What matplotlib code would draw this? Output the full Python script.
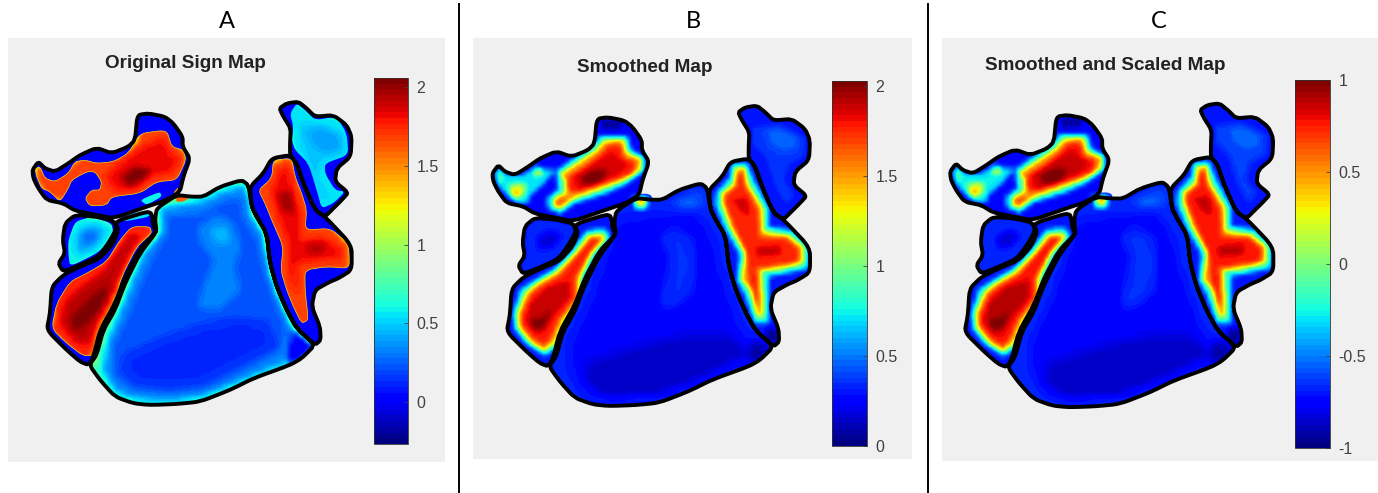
import numpy as np
from matplotlib import pyplot as plt
from matplotlib.path import Path
from matplotlib.patches import PathPatch, Rectangle

W, H = 1378, 493

# region outlines (map units = 3 x reference pixels of panel A)
region_head = [(97,510),(115,485),(135,505),(165,515),(205,490),(240,465),(290,443),(335,460),(385,440),(405,420),(412,345),(445,340),(495,350),(520,370),(548,410),(548,440),(570,475),(550,530),(540,575),(500,600),(440,620),(340,655),(290,645),(225,632),(190,610),(140,600),(115,565),(100,535)]
region_blob = [(225,645),(290,650),(340,662),(350,685),(325,730),(295,770),(240,795),(190,815),(175,790),(195,760),(188,720),(195,670)]
region_left = [(345,665),(440,635),(455,640),(460,680),(470,695),(420,745),(375,830),(345,910),(300,990),(280,1070),(265,1095),(240,1085),(200,1050),(140,990),(150,940),(155,860),(190,825),(240,800),(300,775),(340,730),(355,690)]
region_big = [(470,625),(530,585),(575,590),(610,590),(660,560),(725,540),(745,555),(755,620),(770,650),(800,700),(810,790),(830,860),(860,930),(890,985),(945,1035),(905,1075),(870,1095),(760,1135),(690,1170),(600,1205),(530,1212),(450,1215),(400,1210),(345,1190),(300,1140),(268,1095),(290,1065),(310,990),(345,930),(375,850),(420,760),(470,695),(465,660)]
region_cross = [(750,560),(790,520),(815,475),(870,465),(890,490),(910,550),(945,630),(975,650),(1055,735),(1055,810),(1015,835),(990,845),(945,870),(935,920),(960,980),(962,1020),(945,1035),(890,985),(860,930),(830,860),(810,790),(800,700),(770,650),(755,620)]
region_top = [(838,325),(860,310),(895,305),(920,325),(945,350),(1000,345),(1040,375),(1055,410),(1052,470),(1010,505),(1005,545),(1045,578),(1025,600),(1000,625),(975,650),(945,630),(910,550),(890,490),(870,465),(870,430),(872,385),(850,350)]
regions = [region_head, region_blob, region_left, region_big, region_cross, region_top]

# panel A: edges of the hot and cyan patches
head_edge = [(105,505),(120,500),(135,535),(165,545),(205,520),(225,485),(255,480),(290,490),(340,485),(385,460),(420,400),(500,390),(515,440),(550,450),(558,480),(530,540),(470,545),(420,580),(335,590),(320,615),(270,618),(255,595),(275,570),(300,570),(305,545),(285,515),(260,515),(215,540),(205,565),(180,605),(150,575),(125,565),(110,530)]
left_edge = [(395,680),(450,680),(455,700),(410,740),(365,830),(345,900),(300,980),(285,1065),(250,1068),(200,1030),(155,985),(170,910),(210,845),(260,820),(320,785),(360,720)]
cross_edge = [(775,570),(815,535),(820,480),(875,475),(885,530),(905,580),(920,630),(915,690),(990,685),(1045,730),(1050,805),(980,800),(915,810),(915,870),(925,960),(905,970),(880,920),(860,870),(842,810),(850,740),(815,660),(795,610)]
blob_rim = [(205,720),(225,665),(275,650),(335,670),(340,700),(300,755),(210,800),(205,760)]
top_rim = [(870,340),(890,310),(915,330),(945,360),(1010,350),(1040,400),(1045,465),(975,490),(975,520),(1005,570),(1035,575),(1000,610),(965,625),(950,570),(925,490),(885,450),(875,420),(880,380)]
head_cyan = [(420,600),(480,575),(485,590),(440,615)]
left_cyan = [(355,650),(445,630),(450,650),(370,665)]
head_bit = [(530,590),(570,592),(550,605),(528,605)]
head_bit2 = [(520,578),(535,560),(532,585)]
patch_polys = [head_cyan, left_cyan, head_bit, head_bit2]
patch_levels = [0.58, 0.55, 1.62, 1.5]

# panel A: values inside those patches
big_foot = [(880,985),(945,1035),(905,1075),(860,1095),(860,1040)]
big_rim = [(480,620),(530,615),(610,600),(660,575),(725,555),(745,580),(750,640),(790,700),(805,790),(825,860),(880,990),(860,1030),(860,1085),(760,1125),(690,1155),(600,1190),(530,1200),(450,1200),(400,1195),(345,1175),(305,1110),(320,1020),(345,960),(385,860),(425,760),(480,690)]
big_inner = [(500,650),(600,640),(680,600),(725,600),(730,660),(770,720),(790,810),(820,900),(855,980),(840,1050),(740,1105),(620,1165),(510,1180),(400,1170),(340,1130),(340,1030),(380,950),(420,850),(460,760),(500,700)]
big_low = [(370,1060),(480,1010),(600,970),(700,950),(800,960),(830,1040),(730,1090),(610,1150),(500,1165),(400,1150),(360,1110)]
big_light = [(590,680),(650,640),(700,670),(720,740),(700,800),(720,870),(650,930),(590,920),(610,850),(640,780),(600,730)]
big_spot = [(630,680),(680,680),(690,730),(640,730)]
head_mid = [(340,500),(420,440),(490,410),(505,450),(540,480),(510,520),(450,530),(400,570),(340,570),(310,530)]
head_core = [(360,530),(400,500),(450,505),(430,540),(380,560)]
left_mid = [(390,700),(420,700),(380,770),(340,860),(290,960),(270,1030),(230,1030),(180,970),(190,910),(240,860),(310,810),(350,750)]
left_core = [(210,950),(280,880),(330,850),(310,920),(250,980),(215,990)]
cross_mid = [(810,570),(840,500),(865,500),(880,580),(900,640),(900,720),(960,710),(1020,740),(1020,780),(960,780),(890,790),(890,870),(880,880),(860,800),(860,730),(830,650)]
cross_core1 = [(830,580),(870,570),(880,640),(845,630)]
cross_core2 = [(920,730),(980,730),(960,760),(920,760)]
blob_mid = [(225,710),(245,680),(290,675),(315,695),(285,740),(230,765)]
blob_core = [(245,705),(265,690),(295,700),(270,730),(245,730)]
top_wide = [(890,370),(960,370),(1025,395),(1035,460),(965,480),(950,530),(985,590),(965,610),(940,540),(905,450)]
top_mid = [(920,390),(960,380),(1020,410),(1020,450),(970,460),(940,440),(925,420)]

zones_a = [region_head, region_blob, region_left, region_big, region_cross, region_top, big_rim, big_inner, big_low, big_light, big_spot, big_foot, head_mid, head_core, left_mid, left_core, cross_mid, cross_core1, cross_core2, blob_mid, blob_core, top_wide, top_mid]
levels_a = [1.68, 0.58, 1.74, 0.72, 1.68, 0.56, 0.33, 0.22, 0.13, 0.33, 0.45, 0, 1.82, 2.05, 1.92, 2.05, 1.82, 2.0, 1.95, 0.4, 0.25, 0.48, 0.4]
hot_edges = [head_edge, left_edge, cross_edge]
clip_a = [head_edge, left_edge, cross_edge, blob_rim, top_rim, region_big]

# panels B and C: the large lobe, drawn soft
big_top = [(640,590),(720,565),(735,590),(700,610),(650,610)]
big_b_inner = [(480,660),(600,650),(700,640),(740,700),(770,820),(810,930),(840,1010),(700,1060),(560,1090),(430,1110),(340,1110),(340,1020),(400,900),(450,760)]
big_b_low = [(370,1090),(520,1040),(690,1000),(820,1000),(860,1060),(720,1130),(600,1175),(440,1185),(370,1150)]
big_b_light = [(590,690),(650,670),(700,700),(710,780),(700,870),(640,920),(590,920),(610,830),(620,760)]
foot_dark = [(860,1010),(945,1035),(905,1075),(860,1095)]
soft_zones = [region_big, big_b_inner, big_b_low, big_b_light, big_top, foot_dark]
soft_levels_b = [0.32, 0.23, 0.13, 0.35, 0.48, 0.06]
soft_levels_c = [-0.68, -0.77, -0.87, -0.65, -0.52, -0.94]

# panels B and C: iso-lines of the rest
head_cy = [(290,510),(330,480),(395,435),(420,405),(500,405),(515,450),(555,470),(553,510),(500,550),(435,580),(340,610),(300,640),(265,625),(260,595),(295,565),(290,540)]
arm_cy = [(105,520),(115,500),(145,525),(180,525),(210,510),(225,495),(250,505),(290,510),(270,525),(250,550),(210,585),(200,610),(165,605),(130,575),(110,550)]
head_yel = [(300,520),(345,490),(405,450),(430,420),(490,415),(500,455),(545,475),(540,510),(490,540),(425,565),(340,595),(300,625),(280,615),(280,595),(315,575),(315,545)]
head_red = [(325,525),(375,495),(425,455),(445,430),(480,430),(490,470),(530,485),(515,520),(475,535),(415,555),(335,580),(320,555)]
head_dr = [(340,530),(405,485),(455,455),(475,475),(505,490),(475,520),(415,550),(355,570)]
head_cr = [(360,530),(405,505),(445,510),(420,545),(375,555)]
arm_yel = [(145,555),(195,550),(190,585),(165,595),(150,580)]
arm_org = [(160,570),(180,568),(175,582),(167,585)]
arm_dot = [(220,515),(240,505),(247,515),(230,528)]
arm_tip = [(105,520),(115,505),(130,535),(115,550)]
lobe_org = [(280,605),(315,590),(320,600),(290,620)]
head_dark = [(420,355),(490,355),(480,385),(425,385)]
left_cy = [(380,690),(435,685),(450,710),(405,770),(370,840),(365,910),(320,975),(295,1040),(255,1070),(195,1030),(160,985),(158,940),(180,870),(225,840),(285,805),(330,755)]
left_yel = [(385,705),(430,700),(435,720),(395,760),(360,835),(355,905),(310,965),(285,1030),(250,1055),(210,1030),(175,985),(170,945),(195,880),(230,850),(290,815),(340,765)]
left_red = [(395,715),(420,715),(382,770),(345,835),(345,895),(295,960),(270,1020),(250,1040),(215,1015),(185,980),(185,940),(210,885),(240,860),(300,825),(350,765)]
left_dr = [(200,965),(210,915),(260,865),(325,845),(325,895),(280,945),(250,995),(225,1000)]
left_cr = [(205,965),(245,955),(270,935),(250,985),(220,990)]
cross_cy = [(770,575),(810,530),(815,490),(860,485),(880,535),(925,620),(925,680),(995,690),(1045,735),(1045,805),(980,820),(925,830),(925,900),(925,970),(885,970),(855,885),(830,840),(840,765),(795,685),(765,610)]
cross_yel = [(785,580),(820,550),(825,505),(855,500),(865,550),(910,625),(910,695),(985,705),(1030,740),(1030,790),(970,805),(905,815),(910,890),(910,950),(890,950),(870,870),(845,840),(855,760),(810,680),(785,610)]
cross_red = [(800,580),(832,555),(835,515),(850,515),(855,555),(895,630),(900,710),(980,715),(1020,750),(1015,785),(960,795),(890,805),(895,900),(895,920),(885,900),(865,840),(860,765),(825,685),(795,610)]
cross_c1 = [(820,600),(860,590),(870,645),(845,635)]
cross_c2 = [(890,740),(960,735),(960,765),(890,770)]
blob_b_dark = [(235,715),(265,695),(300,705),(275,740),(240,745)]
top_b_mid = [(880,380),(960,370),(1035,410),(1030,465),(985,490),(970,540),(1000,580),(980,610),(950,560),(920,470),(880,430)]
top_b_core = [(920,390),(960,385),(1010,410),(1010,440),(970,450),(935,430)]
foot_b = [(920,985),(955,990),(955,1030),(915,1030)]
spot_ring = [(505,580),(580,580),(575,635),(515,635)]
spot_mid = [(518,590),(565,590),(560,625),(525,625)]
spot_hot = [(528,593),(558,593),(554,614),(531,614)]

traced = [spot_ring, spot_mid, spot_hot, head_dark, head_cy, arm_cy, head_yel, arm_yel, arm_org, arm_dot, arm_tip, lobe_org, head_red, head_dr, head_cr, left_cy, left_yel, left_red, left_dr, left_cr, cross_cy, cross_yel, cross_red, cross_c1, cross_c2, blob_b_dark, top_b_mid, top_b_core, foot_b]
traced_levels_b = [0.32, 0.85, 1.5, 0.07, 0.8, 0.72, 1.5, 1.25, 1.55, 1.25, 0.9, 1.65, 1.78, 1.86, 2.02, 0.8, 1.5, 1.78, 1.9, 2.02, 0.8, 1.5, 1.76, 1.88, 1.88, 0.17, 0.38, 0.46, 0.06]
traced_levels_c = [-0.68, -0.15, 0.5, -0.93, -0.2, -0.28, 0.5, 0.25, 0.55, 0.25, -0.1, 0.65, 0.78, 0.86, 1.0, -0.2, 0.5, 0.78, 0.9, 1.0, -0.2, 0.5, 0.76, 0.88, 0.88, -0.83, -0.62, -0.54, -0.94]
region_levels_b = [0.27, 0.32, 0.3, 0.3, 0.3, 0.3]
region_levels_c = [-0.73, -0.68, -0.7, -0.7, -0.7, -0.7]

titles = ['Original Sign Map', 'Smoothed Map', 'Smoothed and Scaled Map']
letters = ['A', 'B', 'C']
ticks_a = [0, 0.5, 1, 1.5, 2]
ticks_b = [0, 0.5, 1, 1.5, 2]
ticks_c = [-1, -0.5, 0, 0.5, 1]
ticklabels_a = ['0', '0.5', '1', '1.5', '2']
ticklabels_b = ['0', '0.5', '1', '1.5', '2']
ticklabels_c = ['-1', '-0.5', '0', '0.5', '1']

plt.rcParams['font.family'] = ['Liberation Sans', 'DejaVu Sans']
fig = plt.figure(figsize=(W / 100, H / 100), dpi=100, facecolor='white')
jet = plt.get_cmap('jet', 64)


def px_axes(left, top, right, bottom):
    return fig.add_axes([left / W, 1 - bottom / H, (right - left) / W, (bottom - top) / H])


def make_field(zones, levels, cell, base):
    # painted on a finer grid, then averaged down so the zone edges do not stair-step
    sub = 4
    step = cell / sub
    nx = int(np.ceil(980 / cell)) + 1
    ny = int(np.ceil(940 / cell)) + 1
    xs = 90 + step * np.arange(nx * sub)
    ys = 290 + step * np.arange(ny * sub)
    gx, gy = np.meshgrid(xs, ys)
    pts = np.column_stack([gx.ravel(), gy.ravel()])
    fine = np.full(gx.shape, float(base))
    for poly, lev in zip(zones, levels):
        inside = Path(poly + [poly[0]]).contains_points(pts).reshape(gx.shape)
        fine[inside] = lev
    field = fine.reshape(ny, sub, nx, sub).mean(axis=(1, 3))
    return field, [90, 90 + nx * cell, 290 + ny * cell, 290]


def round_path(polys, t=0.3):
    # straight sides with the corners eased, a fraction t of each side either way
    verts, codes = [], []
    for poly in polys:
        pts = np.array(poly, dtype=float)
        nxt = np.roll(pts, -1, axis=0)
        prv = np.roll(pts, 1, axis=0)
        for k, p in enumerate(pts):
            a = p + (prv[k] - p) * t
            c = p + (nxt[k] - p) * t
            verts.append(a)
            codes.append(Path.MOVETO if k == 0 else Path.LINETO)
            verts += [p, c]
            codes += [Path.CURVE3, Path.CURVE3]
        verts.append(verts[-3 * len(pts)])
        codes.append(Path.LINETO)
    return Path(np.array(verts), codes)


def from_b(polys):
    return [[(x, y - 8) for x, y in poly] for poly in polys]


def draw_image(ax, zones, levels, cell, base, clim, clip):
    field, ext = make_field(zones, levels, cell, base)
    im = ax.imshow(field, cmap=jet, vmin=clim[0], vmax=clim[1], extent=ext,
                   interpolation='gaussian', interpolation_stage='data', aspect='auto')
    im.set_clip_path(round_path(clip), transform=ax.transData)
    return im


panels = [
    dict(bg=(8, 38, 445, 462), box=(30.0, 96.7, 356.7, 410.0), cbar=(374, 78, 408, 444), clim=(-0.27, 2.06),
         ticks=ticks_a, labels=ticklabels_a, title_xy=(185, 64), letter_x=227),
    dict(bg=(473, 38, 912, 459), box=(490.0, 100.7, 815.0, 411.0), cbar=(832, 81, 867, 446), clim=(0, 2.03),
         soft=soft_levels_b, traced=traced_levels_b, reg=region_levels_b, base=0.3,
         ticks=ticks_b, labels=ticklabels_b, title_xy=(645, 67), letter_x=693),
    dict(bg=(942, 38, 1378, 461), box=(947.6, 98.3, 1278.4, 412.3), cbar=(1295, 80, 1330, 448), clim=(-1, 1),
         soft=soft_levels_c, traced=traced_levels_c, reg=region_levels_c, base=-0.7,
         ticks=ticks_c, labels=ticklabels_c, title_xy=(1105, 65), letter_x=1159),
]

for i, p in enumerate(panels):
    l, t, r, b = p['bg']
    fig.add_artist(Rectangle((l / W, 1 - b / H), (r - l) / W, (b - t) / H, transform=fig.transFigure,
                             fc='#f0f0f0', ec='none', zorder=-5))

    ax = px_axes(*p['box'])
    ax.axis('off')
    clim = p['clim']
    to_color = lambda v: jet((v - clim[0]) / (clim[1] - clim[0]))

    if i == 0:
        ax.add_patch(PathPatch(round_path(regions), fc=to_color(0), ec='none', zorder=0))
        im = draw_image(ax, zones_a, levels_a, 18, 0.62, clim, clip_a)
        im.set_zorder(1)
        ax.add_patch(PathPatch(round_path(hot_edges), fc='none', ec=to_color(1.3), lw=0.5, zorder=2))
        for poly, lev in zip(patch_polys, patch_levels):
            ax.add_patch(PathPatch(round_path([poly]), fc=to_color(lev), ec='none', zorder=2))
    else:
        others = [region_head, region_blob, region_left, region_cross, region_top]
        im = draw_image(ax, soft_zones, p['soft'], 27, p['soft'][0], clim, [region_big])
        im.set_zorder(1)
        fine = others + from_b(traced)
        fine_levels = p['reg'][:3] + p['reg'][4:] + p['traced']
        im2 = draw_image(ax, fine, fine_levels, 12, p['base'], clim, others + from_b([spot_ring]))
        im2.set_zorder(1.5)

    ax.set_xlim(90, 1070)
    ax.set_ylim(1230, 290)
    ax.add_patch(PathPatch(round_path(regions), fc='none', ec='black', lw=2.8, zorder=3))

    cax = px_axes(*p['cbar'])
    cb = fig.colorbar(im, cax=cax)
    cb.set_ticks(p['ticks'])
    cb.set_ticklabels(p['labels'])
    cb.outline.set_edgecolor('#303030')
    cb.outline.set_linewidth(0.6)
    cax.tick_params(direction='in', length=3, width=0.6, color='#404040', labelcolor='#404040',
                    labelsize=11.5, pad=6)

    fig.text(p['title_xy'][0] / W, 1 - p['title_xy'][1] / H, titles[i], fontsize=13.6, fontweight='bold',
             color='#222222', ha='center', va='center')
    fig.text(p['letter_x'] / W, 1 - 22 / H, letters[i], fontsize=17, family=['Lato', 'DejaVu Sans'],
             color='black', ha='center', va='center')

for x in (459, 928):
    fig.add_artist(plt.Line2D([x / W, x / W], [0, 1 - 4 / H], color='black', lw=1.4, transform=fig.transFigure))

fig.savefig('out.png', dpi=100, facecolor='white')
